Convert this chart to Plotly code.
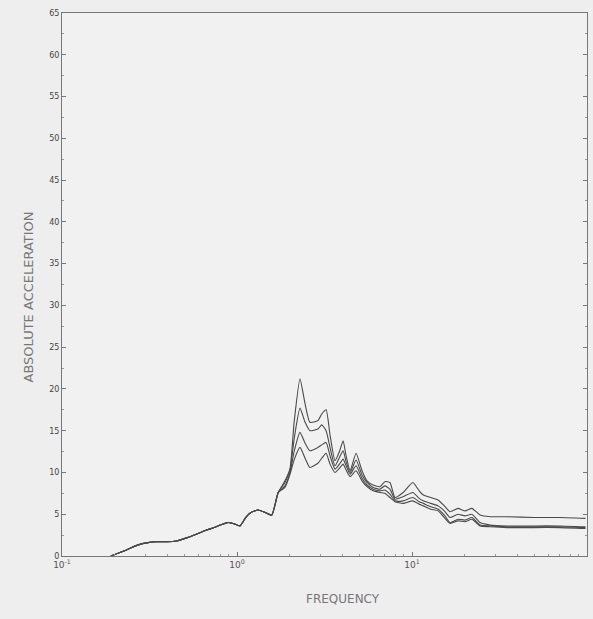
import plotly.graph_objects as go

freq = [0.19, 0.22, 0.27, 0.31, 0.35, 0.40, 0.45, 0.52, 0.60, 0.67, 0.74, 0.80, 0.88, 0.95,
        1.04, 1.12, 1.2, 1.32, 1.45, 1.58, 1.72, 1.88, 2.01, 2.12, 2.29, 2.45, 2.61, 2.9,
        3.05, 3.23, 3.4, 3.63, 3.85, 4.04, 4.2, 4.43, 4.79, 5.18, 5.53, 6.0, 6.56, 7.0,
        7.48, 8.0, 8.9, 10.1, 11.0, 11.6, 12.8, 14.1, 15.3, 16.5, 18.3, 20.1, 22.0, 24.5,
        28, 35, 50, 70, 98]

base = [0, 0.5, 1.3, 1.6, 1.7, 1.7, 1.8, 2.2, 2.7, 3.1, 3.4, 3.7, 4.0, 3.9,
        3.6, 4.6, 5.2, 5.5, 5.2, 4.9, 7.6]

acc1 = base + [9.0, 10.5, 16.0, 21.2, 18.2, 16.0, 16.2, 17.0, 17.5, 14.5, 11.4, 12.5, 13.8,
               12.0, 10.2, 12.3, 10.2, 9.0, 8.5, 8.3, 8.9, 8.8, 7.0, 7.6, 8.8, 7.8, 7.3,
               7.0, 6.7, 6.0, 5.3, 5.7, 5.4, 5.7, 4.9, 4.7, 4.7, 4.6, 4.6, 4.5]
acc2 = base + [8.8, 10.3, 14.0, 17.7, 16.0, 15.0, 15.2, 15.7, 15.0, 13.0, 10.8, 11.8, 12.6,
               11.3, 10.0, 11.5, 9.7, 8.8, 8.2, 8.0, 8.4, 8.0, 6.8, 7.1, 7.6, 6.9, 6.6,
               6.3, 6.0, 5.4, 4.6, 5.0, 4.8, 5.0, 4.0, 3.7, 3.6, 3.6, 3.6, 3.5]
acc3 = base + [8.4, 10.0, 12.5, 14.8, 13.5, 12.6, 13.0, 13.3, 13.6, 12.0, 10.4, 11.0, 11.6,
               10.8, 9.8, 10.8, 9.3, 8.5, 8.0, 7.8, 7.9, 7.4, 6.6, 6.6, 7.0, 6.5, 6.3,
               5.9, 5.6, 4.9, 4.0, 4.4, 4.3, 4.6, 3.7, 3.6, 3.5, 3.5, 3.5, 3.4]
acc4 = base + [8.2, 9.8, 11.5, 13.0, 11.7, 10.6, 11.1, 11.7, 12.3, 11.0, 10.0, 10.5, 11.0,
               10.3, 9.5, 10.2, 9.0, 8.3, 7.8, 7.6, 7.5, 7.0, 6.5, 6.3, 6.6, 6.2, 6.0,
               5.6, 5.4, 4.6, 3.9, 4.2, 4.1, 4.4, 3.6, 3.5, 3.4, 3.4, 3.4, 3.3]

series = [acc1, acc2, acc3, acc4]

y_ticks = list(range(0, 70, 5))
x_ticks = [0.1, 1, 10, 100]
x_labels = ["10<sup>-1</sup>", "10<sup>0</sup>", "10<sup>1</sup>", "10<sup>2</sup>"]
x_minor = [m * d for d in (0.1, 1, 10) for m in range(2, 10)]

fig = go.Figure()
for s in series:
    fig.add_trace(go.Scatter(x=freq, y=s, mode="lines",
                             line=dict(color="#4a4a4a", width=1.1, shape="spline", smoothing=0.5),
                             showlegend=False, hoverinfo="skip"))

fig.update_layout(
    width=593, height=619,
    margin=dict(l=62, r=6, t=13, b=63),
    paper_bgcolor="#eeeeee", plot_bgcolor="#f1f1f1",
    font=dict(family="DejaVu Sans", color="#666666", size=8),
)
fig.update_xaxes(type="log", range=[-1, 2], tickvals=x_ticks, ticktext=x_labels,
                 showgrid=False, zeroline=False, showline=True, linecolor="#777777",
                 linewidth=1, mirror=True, ticks="inside", ticklen=4, tickcolor="#777777",
                 tickfont=dict(size=9, color="#555555"),
                 minor=dict(tickvals=x_minor, ticks="inside", ticklen=2, tickcolor="#999999",
                            showgrid=False))
fig.update_yaxes(range=[0, 65], tickvals=y_ticks, showgrid=False, zeroline=False,
                 showline=True, linecolor="#777777", linewidth=1, mirror="ticks",
                 ticks="inside", ticklen=4, tickcolor="#777777",
                 tickfont=dict(size=8, color="#444444"),
                 minor=dict(dtick=2.5, ticks="inside", ticklen=2, tickcolor="#999999",
                            showgrid=False))

fig.add_annotation(text="FREQUENCY", xref="paper", yref="paper",
                   x=(343 - 62) / 525, y=-(608 - 556) / 543,
                   showarrow=False, font=dict(size=12, color="#777777"))
fig.add_annotation(text="ABSOLUTE ACCELERATION", xref="paper", yref="paper",
                   x=-(62 - 18) / 525, y=(556 - 297) / 543, textangle=-90,
                   showarrow=False, font=dict(size=13, color="#777777"))

fig.write_html("out.html")
